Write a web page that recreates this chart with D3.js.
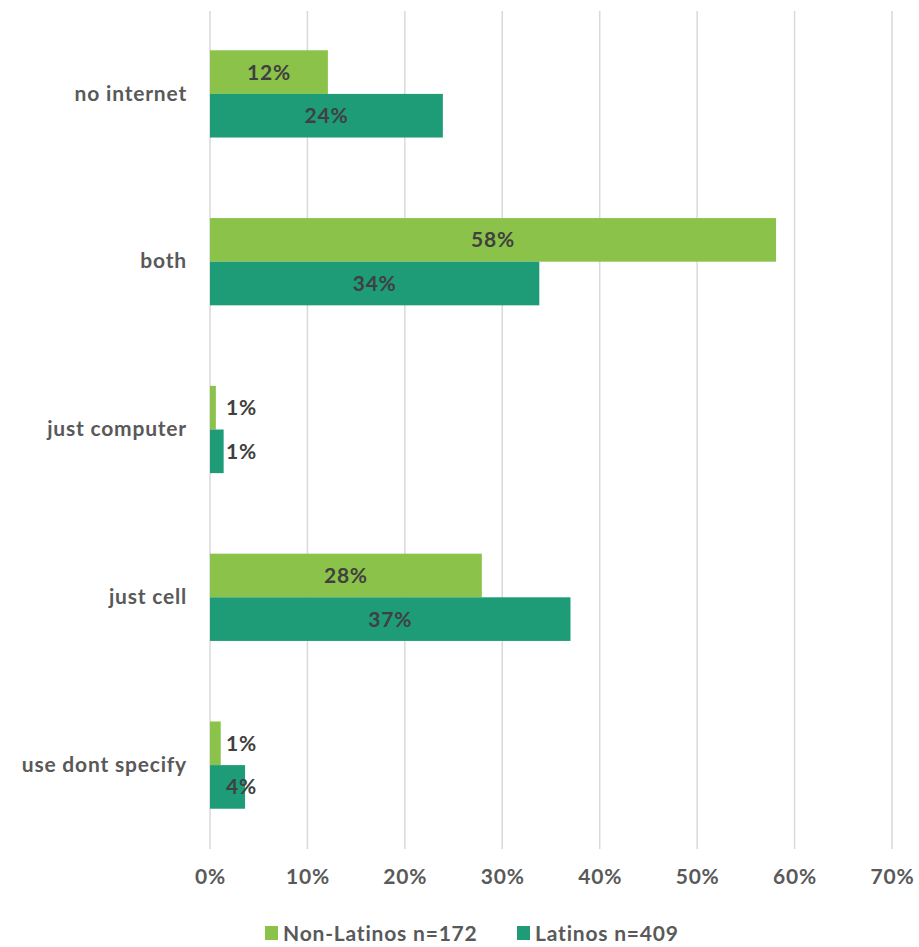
<!DOCTYPE html>
<html>
<head>
<meta charset="utf-8">
<script src="https://cdn.jsdelivr.net/npm/d3@7"></script>
<style>
  body { margin: 0; background: #fff; }
  text { font-family: Lato, "Open Sans", sans-serif; font-weight: bold; letter-spacing: 0.8px; }
</style>
</head>
<body>
<div id="chart"></div>
<script>
let categories = ['no internet', 'both', 'just computer', 'just cell', 'use dont specify']
let seriesNames = ['Non-Latinos n=172', 'Latinos n=409']
let nonLatinos = [12.1, 58.1, 0.6, 27.9, 1.1]
let latinos = [23.9, 33.8, 1.4, 37.0, 3.6]
let ticks = [0, 10, 20, 30, 40, 50, 60, 70]
let colors = ['#8bc249', '#1e9c78']

function main () {
  let width = 919
  let height = 947
  let svg = d3.select('#chart').append('svg').attr('width', width).attr('height', height)

  let x = d3.scaleLinear().domain([0, 70]).range([210, 892])
  let y = d3.scaleBand().domain(categories).range([10, 849]).paddingInner(0.48).paddingOuter(0.24)
  let sub = d3.scaleBand().domain([0, 1]).range([0, y.bandwidth()])

  // gridlines
  svg.append('g').selectAll('line').data(ticks).join('line')
    .attr('x1', (d) => x(d)).attr('x2', (d) => x(d))
    .attr('y1', 11).attr('y2', 849)
    .attr('stroke', '#d9d9d9').attr('stroke-width', 1.5)

  // x axis labels
  let xAxis = d3.axisBottom(x).tickValues(ticks).tickFormat((d) => d + '%').tickSize(0)
  let ga = svg.append('g').attr('transform', 'translate(0,866)').call(xAxis)
  ga.select('.domain').remove()
  ga.selectAll('text').attr('font-size', 21).attr('fill', '#595959')
    .style('font-family', 'Lato, sans-serif').style('font-weight', 'bold')

  // category labels
  let yAxis = d3.axisLeft(y).tickSize(0).tickPadding(0)
  let gy = svg.append('g').attr('transform', 'translate(187,0)').call(yAxis)
  gy.select('.domain').remove()
  gy.selectAll('text').attr('font-size', 21).attr('fill', '#595959')
    .style('font-family', 'Lato, sans-serif').style('font-weight', 'bold')

  let rows = []
  categories.forEach((c, i) => {
    rows.push({ cat: c, s: 0, v: nonLatinos[i] })
    rows.push({ cat: c, s: 1, v: latinos[i] })
  })

  svg.append('g').selectAll('rect').data(rows).join('rect')
    .attr('x', x(0))
    .attr('y', (d) => y(d.cat) + sub(d.s))
    .attr('width', (d) => x(d.v) - x(0))
    .attr('height', sub.bandwidth())
    .attr('fill', (d) => colors[d.s])

  svg.append('g').selectAll('text').data(rows).join('text')
    .attr('x', (d) => d.v < 5 ? x(0) + 16 : (x(0) + x(d.v)) / 2)
    .attr('y', (d) => y(d.cat) + sub(d.s) + sub.bandwidth() / 2)
    .attr('dy', '0.36em')
    .attr('text-anchor', (d) => d.v < 5 ? 'start' : 'middle')
    .attr('font-size', 21)
    .attr('fill', '#404040')
    .text((d) => Math.round(d.v) + '%')

  // legend
  let legendX = [265, 517]
  let lg = svg.append('g').selectAll('g').data(seriesNames).join('g')
    .attr('transform', (d, i) => 'translate(' + legendX[i] + ',926)')
  lg.append('rect').attr('width', 13).attr('height', 14).attr('fill', (d, i) => colors[i])
  lg.append('text').attr('x', 18).attr('y', 7).attr('dy', '0.36em')
    .attr('font-size', 21).attr('letter-spacing', '1.2px').attr('fill', '#595959').text((d) => d)
}

main()
</script>
</body>
</html>
